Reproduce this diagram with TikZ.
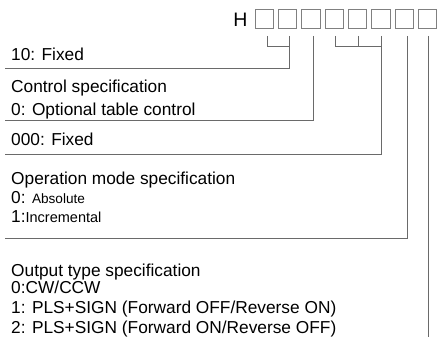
\documentclass[tikz,border=0pt]{standalone}
\usepackage{fontspec}
\setmainfont{Liberation Sans}
\definecolor{boxgray}{HTML}{808080}
\definecolor{linegray}{HTML}{6A6A6A}
\begin{document}
\begin{tikzpicture}[x=1pt,y=-1pt,
  digit/.style={draw=boxgray, line width=0.9pt, minimum width=18.5pt, minimum height=19.5pt, inner sep=0pt, anchor=north west},
  lbl/.style={anchor=base west, inner sep=0pt, font=\fontsize{17.3}{20}\selectfont},
  sm/.style={font=\fontsize{14}{16}\selectfont},
  lead/.style={draw=linegray, line width=0.9pt}]
\useasboundingbox (0,0) rectangle (437,339);
% header
\node[anchor=base, inner sep=0pt, font=\fontsize{19.5}{22}\selectfont] (H) at (240.5,27) {H};
\node[digit] (b1) at (254.5,9) {};
\node[digit] (b2) at (277.85,9) {};
\node[digit] (b3) at (301.2,9) {};
\node[digit] (b4) at (324.55,9) {};
\node[digit] (b5) at (347.9,9) {};
\node[digit] (b6) at (371.25,9) {};
\node[digit] (b7) at (394.6,9) {};
\node[digit] (b8) at (417.95,9) {};
% lead start points
\coordinate (s1) at ([xshift=3.25pt,yshift=-6.5pt]b1.south);
\coordinate (s2) at ([xshift=1.4pt,yshift=-6.5pt]b2.south);
\coordinate (s3) at ([xshift=2.55pt,yshift=-6.5pt]b3.south);
\coordinate (s4) at ([xshift=1.2pt,yshift=-6.5pt]b4.south);
\coordinate (s5) at ([xshift=0.85pt,yshift=-6.5pt]b5.south);
\coordinate (s6) at ([xshift=0.5pt,yshift=-6.5pt]b6.south);
\coordinate (s7) at ([xshift=3.15pt,yshift=-6.5pt]b7.south);
\coordinate (s8) at ([xshift=0.8pt,yshift=-6.5pt]b8.south);
% left ends
\coordinate (e2) at (5,68);
\coordinate (e3) at (5,120);
\coordinate (e6) at (5,154);
\coordinate (e7) at (5,238);
\coordinate (e8) at (428,337);
% leads
\draw[lead] (s1) |- (s2 |- 0,46);
\draw[lead] (s2) |- (e2);
\draw[lead] (s3) |- (e3);
\draw[lead] (s4) |- (s6 |- 0,46);
\draw[lead] (s5) -- (s5 |- 0,46);
\draw[lead] (s6) |- (e6);
\draw[lead] (s7) |- (e7);
\draw[lead] (s8) -- (s8 |- e8);
% labels
\node[lbl] (t1) at (11,60.7) {10: Fixed};
\node[lbl] (t2) at (11,93) {Control specification};
\node[lbl] (t3) at (11,116) {0: Optional table control};
\node[lbl] (t4) at (11,146) {000: Fixed};
\node[lbl] (t5) at (11,185) {Operation mode specification};
\node[lbl] (t6) at (11,203.5) {0: {\fontsize{13.6}{16}\selectfont Absolute}};
\node[lbl] (t7) at (11,223) {1:{\fontsize{14.5}{16}\selectfont Incremental}};
\node[lbl] (t8) at (11,277) {Output type specification};
\node[lbl] (t9) at (11,294) {0:CW/CCW};
\node[lbl] (t10) at (11,314) {1: PLS+SIGN (Forward OFF/Reverse ON)};
\node[lbl] (t11) at (11,334) {2: PLS+SIGN (Forward ON/Reverse OFF)};
\end{tikzpicture}
\end{document}
